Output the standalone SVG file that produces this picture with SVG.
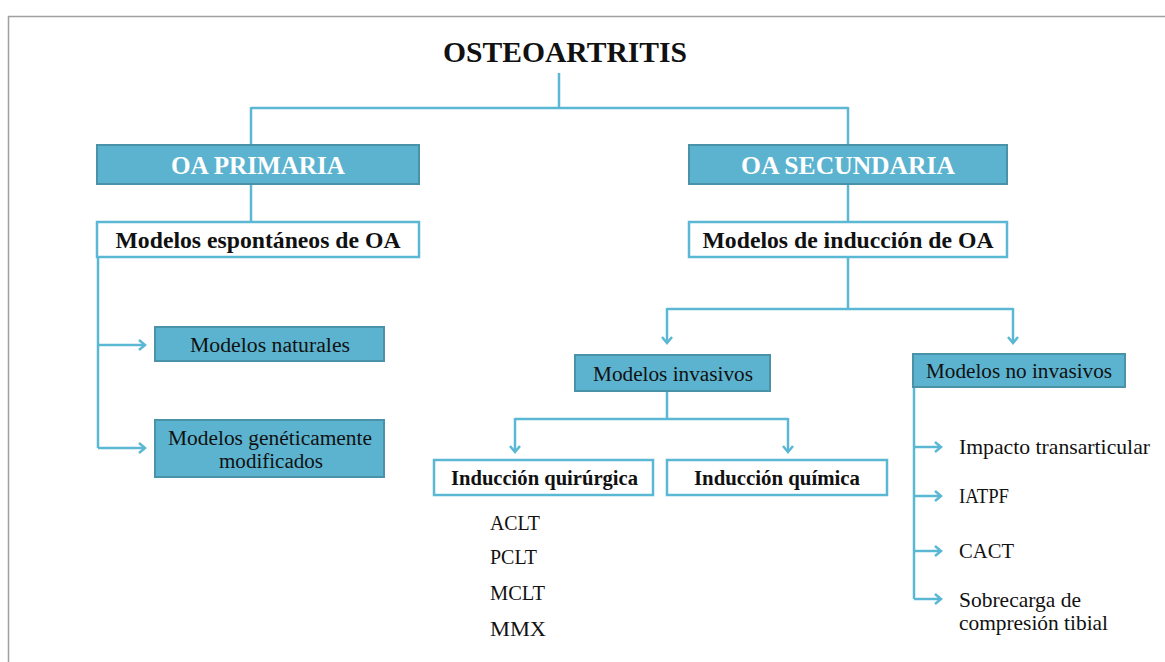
<svg xmlns="http://www.w3.org/2000/svg" width="1165" height="662" viewBox="0 0 1165 662">
<style>
.frame{fill:none;stroke:#a0a0a0;stroke-width:1.5}
.fill{fill:#5bb3cf;stroke:#4a92a8;stroke-width:2}
.white{fill:#fff;stroke:#5bb8d4;stroke-width:2.5}
.ln{fill:none;stroke:#5bb8d4;stroke-width:2.5}
text{font-family:"Liberation Serif","DejaVu Serif",serif;fill:#111}
.t1{font-size:30px;font-weight:bold;text-anchor:middle}
.hw{font-size:25px;font-weight:bold;fill:#fff;text-anchor:middle}
.hb{font-size:23px;font-weight:bold;text-anchor:middle}
.n{font-size:20.5px;text-anchor:middle}
.sb{font-size:20px;font-weight:bold;text-anchor:middle}
.l{font-size:21px}
</style>
<defs>
<marker id="ar" markerWidth="12" markerHeight="12" refX="9" refY="6" orient="auto" markerUnits="userSpaceOnUse">
<path d="M3,1 L9,6 L3,11" fill="none" stroke="#5bb8d4" stroke-width="2.5"/>
</marker>
</defs>
<rect width="1165" height="662" fill="#fff"/>
<path class="frame" d="M8.5,662 V16.5 H1165"/>
<g id="connectors">
<path class="ln" d="M559,73 V108 M251,108 H848 M251,107 V145 M848,107 V145"/>
<path class="ln" d="M251,184 V222 M848,184 V222"/>
<path class="ln" d="M98,257 V448"/>
<path class="ln" d="M98,345 H145" marker-end="url(#ar)"/>
<path class="ln" d="M98,448 H145" marker-end="url(#ar)"/>
<path class="ln" d="M848,257 V309 M667,309 H1013"/>
<path class="ln" d="M667,308 V343" marker-end="url(#ar)"/>
<path class="ln" d="M1013,308 V343" marker-end="url(#ar)"/>
<path class="ln" d="M667,391 V419 M515,419 H788"/>
<path class="ln" d="M515,418 V452" marker-end="url(#ar)"/>
<path class="ln" d="M788,418 V452" marker-end="url(#ar)"/>
<path class="ln" d="M914,387 V599"/>
<path class="ln" d="M914,447 H941" marker-end="url(#ar)"/>
<path class="ln" d="M914,496 H941" marker-end="url(#ar)"/>
<path class="ln" d="M914,551 H941" marker-end="url(#ar)"/>
<path class="ln" d="M914,599 H941" marker-end="url(#ar)"/>
</g>
<g id="title"><text class="t1" x="565" y="62" textLength="244" lengthAdjust="spacingAndGlyphs">OSTEOARTRITIS</text></g>
<g id="oa-primaria"><rect class="fill" x="97" y="145" width="322" height="39"/><text class="hw" x="258" y="174" textLength="174" lengthAdjust="spacingAndGlyphs">OA PRIMARIA</text></g>
<g id="oa-secundaria"><rect class="fill" x="689" y="145" width="318" height="39"/><text class="hw" x="848" y="174" textLength="214" lengthAdjust="spacingAndGlyphs">OA SECUNDARIA</text></g>
<g id="espontaneos"><rect class="white" x="97" y="222" width="322" height="35"/><text class="hb" x="258" y="248" textLength="285" lengthAdjust="spacingAndGlyphs">Modelos espontáneos de OA</text></g>
<g id="induccion"><rect class="white" x="689" y="222" width="318" height="35"/><text class="hb" x="848" y="248" textLength="291" lengthAdjust="spacingAndGlyphs">Modelos de inducción de OA</text></g>
<g id="naturales"><rect class="fill" x="155" y="327" width="229" height="34"/><text class="n" x="270" y="352" textLength="160" lengthAdjust="spacingAndGlyphs">Modelos naturales</text></g>
<g id="geneticos"><rect class="fill" x="155" y="420" width="229" height="57"/><text class="n" x="270" y="445" textLength="204" lengthAdjust="spacingAndGlyphs">Modelos genéticamente</text><text class="n" x="271" y="468" textLength="104" lengthAdjust="spacingAndGlyphs">modificados</text></g>
<g id="invasivos"><rect class="fill" x="575" y="355" width="195" height="36"/><text class="n" x="673" y="381" textLength="160" lengthAdjust="spacingAndGlyphs">Modelos invasivos</text></g>
<g id="no-invasivos"><rect class="fill" x="913" y="354" width="212" height="33"/><text class="n" x="1019" y="378" textLength="186" lengthAdjust="spacingAndGlyphs">Modelos no invasivos</text></g>
<g id="quirurgica"><rect class="white" x="434" y="460" width="219" height="35"/><text class="sb" x="544.5" y="485" textLength="187" lengthAdjust="spacingAndGlyphs">Inducción quirúrgica</text></g>
<g id="quimica"><rect class="white" x="667" y="460" width="220" height="35"/><text class="sb" x="777" y="485" textLength="166" lengthAdjust="spacingAndGlyphs">Inducción química</text></g>
<g id="quirurgica-list">
<text class="l" x="490" y="530" textLength="50" lengthAdjust="spacingAndGlyphs">ACLT</text>
<text class="l" x="490" y="564" textLength="47" lengthAdjust="spacingAndGlyphs">PCLT</text>
<text class="l" x="490" y="600" textLength="55" lengthAdjust="spacingAndGlyphs">MCLT</text>
<text class="l" x="490" y="636" textLength="56" lengthAdjust="spacingAndGlyphs">MMX</text>
</g>
<g id="no-invasivos-list">
<text class="l" x="959" y="454" textLength="191" lengthAdjust="spacingAndGlyphs">Impacto transarticular</text>
<text class="l" x="959" y="503" textLength="50" lengthAdjust="spacingAndGlyphs">IATPF</text>
<text class="l" x="959" y="558" textLength="55" lengthAdjust="spacingAndGlyphs">CACT</text>
<text class="l" x="959" y="607" textLength="122" lengthAdjust="spacingAndGlyphs">Sobrecarga de</text>
<text class="l" x="959" y="630" textLength="149" lengthAdjust="spacingAndGlyphs">compresión tibial</text>
</g>
</svg>
